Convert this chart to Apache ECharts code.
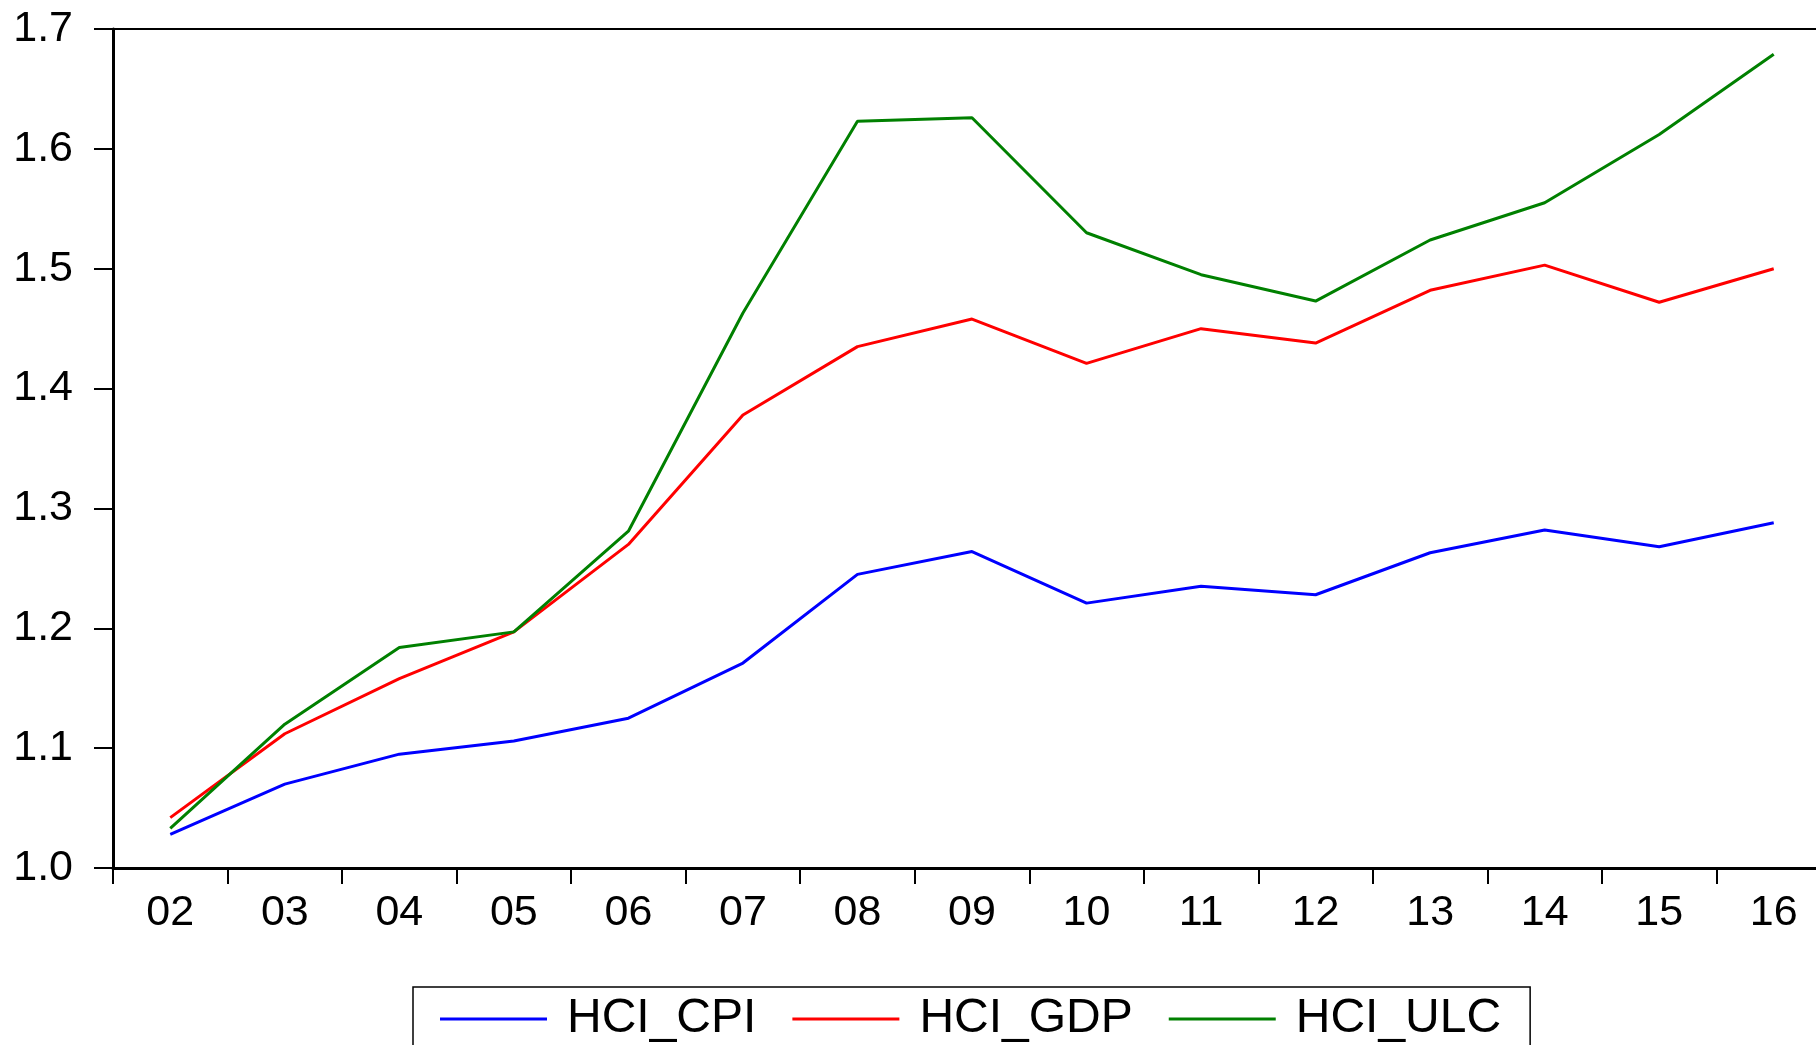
<!DOCTYPE html>
<html>
<head>
<meta charset="utf-8">
<script src="https://cdn.jsdelivr.net/npm/echarts@6/dist/echarts.min.js"></script>
<style>
  html, body { margin: 0; padding: 0; background: #fff; overflow: hidden; }
  /* 图表比窗口略宽，右边框被裁掉 */
  #chart { width: 1832px; height: 1045px; }
</style>
</head>
<body>
<div id="chart"></div>
<script>
// 年份 (类目轴)
var years = ['02', '03', '04', '05', '06', '07', '08', '09', '10', '11', '12', '13', '14', '15', '16'];
var hciCpi = [1.028, 1.070, 1.095, 1.106, 1.125, 1.171, 1.245, 1.264, 1.221, 1.235, 1.228, 1.263, 1.282, 1.268, 1.288];
var hciGdp = [1.042, 1.112, 1.158, 1.197, 1.270, 1.378, 1.435, 1.458, 1.421, 1.450, 1.438, 1.482, 1.503, 1.472, 1.500];
var hciUlc = [1.033, 1.120, 1.184, 1.197, 1.281, 1.463, 1.623, 1.626, 1.530, 1.495, 1.473, 1.524, 1.555, 1.612, 1.679];
var yTicks = [1.0, 1.1, 1.2, 1.3, 1.4, 1.5, 1.6, 1.7];

var font = 'Liberation Sans, Arial, sans-serif';

function makeLine(name, data, color) {
    return {
        name: name,
        type: 'line',
        data: data,
        symbol: 'none',
        lineStyle: { color: color, width: 3 },
        itemStyle: { color: color }
    };
}

var chart = echarts.init(document.getElementById('chart'));
chart.setOption({
    animation: false,
    backgroundColor: '#fff',
    grid: {
        left: 113, top: 29, bottom: 177, right: 1,
        show: true, borderColor: '#000', borderWidth: 2
    },
    legend: {
        left: 413, top: 987,
        padding: [8, 29, 60, 27],
        borderColor: '#000', borderWidth: 1.5,
        itemWidth: 107, itemHeight: 3, itemGap: 36,
        icon: 'rect',
        textStyle: { fontFamily: font, fontSize: 48, color: '#000', padding: [0, 0, 0, 15] },
        data: ['HCI_CPI', 'HCI_GDP', 'HCI_ULC']
    },
    xAxis: {
        type: 'category',
        data: years,
        boundaryGap: true,
        axisLine: { lineStyle: { color: '#000', width: 3 } },
        axisTick: { show: true, length: 16, lineStyle: { color: '#000', width: 2 } },
        axisLabel: { fontFamily: font, fontSize: 43, color: '#000', margin: 24 },
        splitLine: { show: false }
    },
    yAxis: {
        type: 'value',
        min: yTicks[0],
        max: yTicks[yTicks.length - 1],
        interval: 0.1,
        axisLine: { show: true, lineStyle: { color: '#000', width: 3 } },
        axisTick: { show: true, length: 19, lineStyle: { color: '#000', width: 2 } },
        axisLabel: {
            fontFamily: font, fontSize: 43, color: '#000', margin: 40,
            formatter: function (v) { return v.toFixed(1); }
        },
        splitLine: { show: false }
    },
    series: [
        makeLine('HCI_CPI', hciCpi, '#0000ff'),
        makeLine('HCI_GDP', hciGdp, '#ff0000'),
        makeLine('HCI_ULC', hciUlc, '#008000')
    ]
});
</script>
</body>
</html>
